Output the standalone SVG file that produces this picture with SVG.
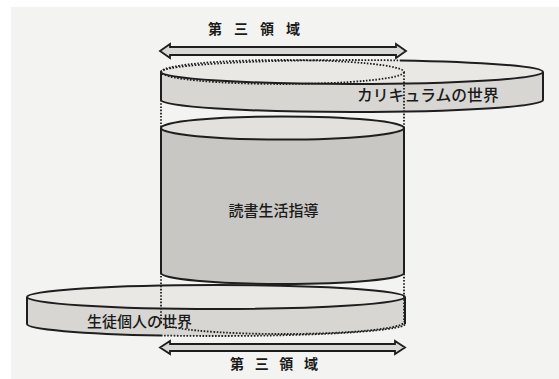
<svg xmlns="http://www.w3.org/2000/svg" width="559" height="379" viewBox="0 0 559 379">
<style>
.ln{fill:none;stroke:#1e1e1e;stroke-width:2}
.dot{fill:none;stroke:#1e1e1e;stroke-width:1.8;stroke-dasharray:1.6 1.6}
.side1{fill:#d7d6d2}
.top1{fill:#e9e8e5}
.side2{fill:#c9c7c3}
.top2{fill:#e2e1dd}
.arrow{fill:#d8d8d6;stroke:#1e1e1e;stroke-width:1.8;stroke-linejoin:miter}
.t{font-family:"Noto Sans CJK JP","Noto Sans CJK SC",sans-serif;fill:#1a1a1a}
</style>
<rect width="559" height="379" fill="#f3f3f2"/>
<rect width="559" height="7" fill="#ffffff"/>
<rect width="11" height="379" fill="#ffffff"/>

<g id="student-world">
<path class="side1" d="M27,297 L27,324 A189,12 0 0 0 405,324 L405,297 Z"/>
<ellipse class="top1" cx="216" cy="297" rx="189" ry="12"/>
<path class="ln" d="M27,297 L27,324 A189,12 0 0 0 161,335.5"/>
<path class="ln" d="M405,297 L405,324"/>
<ellipse class="ln" cx="216" cy="297" rx="189" ry="12"/>
<text class="t" x="87" y="327" font-size="15" font-weight="500">生徒個人の世界</text>
</g>

<g id="reading-guidance">
<path class="side2" d="M161,128 L161,273 A121.5,11 0 0 0 404,273 L404,128 Z"/>
<path class="ln" d="M161,128 L161,273 A121.5,11 0 0 0 404,273 L404,128"/>
<ellipse class="ln" style="fill:#e2e1dd" cx="282.5" cy="128" rx="121.5" ry="11.5"/>
<text class="t" x="273.5" y="215.5" font-size="15" font-weight="500" text-anchor="middle">読書生活指導</text>
</g>

<g id="curriculum-world">
<path class="side1" d="M161,72 L161,100 A191,12 0 0 0 543,100 L543,72 Z"/>
<ellipse class="top1" cx="352" cy="72" rx="191" ry="12"/>
<path class="ln" d="M161,72 L161,100 A191,12 0 0 0 543,100 L543,72"/>
<path class="ln" d="M161,72 A191,12 0 0 0 543,72"/>
<path class="ln" d="M400,60.4 A191,12 0 0 1 543,72"/>
<path class="dot" d="M161,72 A191,12 0 0 1 400,60.4"/>
<text class="t" x="357" y="101" font-size="15.8" font-weight="500">カリキュラムの世界</text>
</g>

<g id="connectors">
<ellipse class="dot" cx="282.5" cy="72" rx="121.5" ry="12"/>
<path class="dot" d="M161,100 L161,322"/>
<path class="dot" d="M404,72 L404,322"/>
<path class="dot" d="M161,322 A121.5,12 0 0 0 404,322"/>
<path class="dot" d="M161,335.5 A189,12 0 0 0 405,324"/>
</g>

<g id="third-region-top">
<polygon class="arrow" points="160,51 170,44 170,47 396,47 396,44 406,51 396,58 396,55 170,55 170,58"/>
<text class="t" x="208" y="33.5" font-size="14" font-weight="bold" textLength="92" lengthAdjust="spacing">第三領域</text>
</g>

<g id="third-region-bottom">
<polygon class="arrow" points="160,347.5 170,341 170,344 395,344 395,341 405,347.5 395,354 395,351 170,351 170,354"/>
<text class="t" x="230" y="369" font-size="14" font-weight="bold" textLength="88" lengthAdjust="spacing">第三領域</text>
</g>
</svg>
